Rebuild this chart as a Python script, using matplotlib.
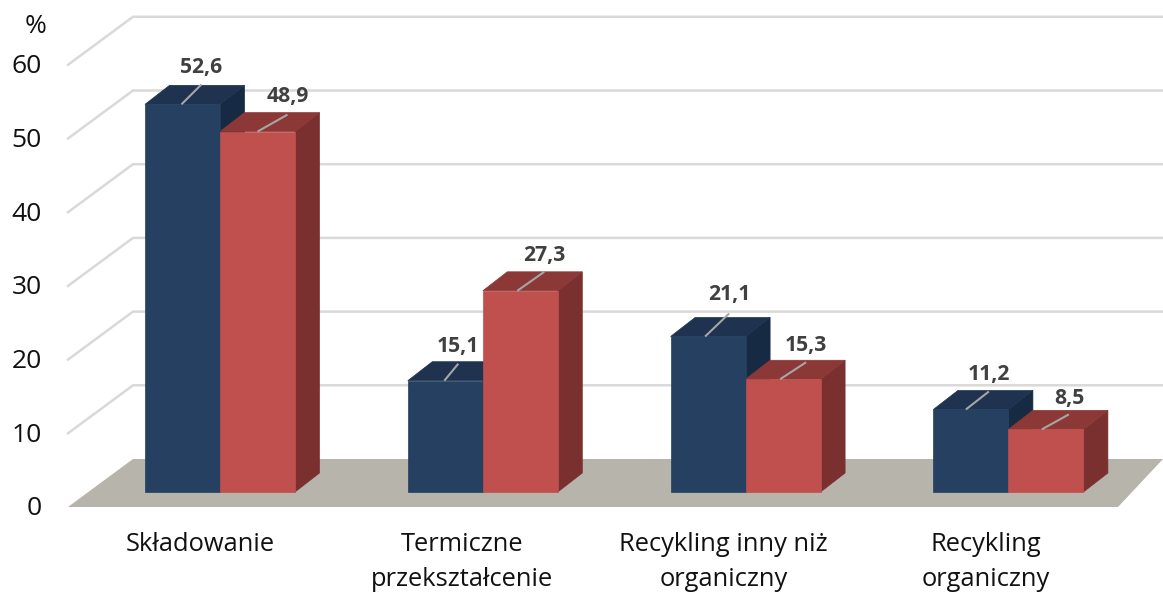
#!/usr/bin/env python3
import matplotlib
matplotlib.use('Agg')
import matplotlib.pyplot as plt
from matplotlib.patches import Polygon

plt.rcParams['font.family'] = ['Open Sans', 'DejaVu Sans']

categories = ['Składowanie', 'Termiczne\nprzekształcenie',
              'Recykling inny niż\norganiczny', 'Recykling\norganiczny']
series_blue = [52.6, 15.1, 21.1, 11.2]
series_red = [48.9, 27.3, 15.3, 8.5]
blue_labels = ['52,6', '15,1', '21,1', '11,2']
red_labels = ['48,9', '27,3', '15,3', '8,5']
y_ticks = [0, 10, 20, 30, 40, 50, 60]

# fake 3D box geometry, in data units (x: one category = 1, y: percent)
W, H = 1163, 594
PX_X = 262.8
PX_Y = 7.37
BAR_W = 75 / PX_X
DEPTH_X = 24.5 / PX_X
DEPTH_Y = 19 / PX_Y
FLOOR_FRONT = -15 / PX_Y
FLOOR_BACK = 33 / PX_Y
WALL_FRONT_X = -152 / PX_X
WALL_BACK_X = -87 / PX_X

# leader line ends and label centres relative to bar front top centre (pixels)
blue_offs = [((-1, 0), (19, 20), (19, 37)), ((-1, 0), (13, 17), (13, 34)),
             ((-3, 0), (21, 23), (21, 42)), ((-5, 0), (18, 18), (18, 35))]
red_offs = [((0, 0), (30, 17), (30, 35)), ((-3, 0), (24, 19), (24, 35)),
            ((-3, 0), (23, 17), (23, 34)), ((-4, 0), (23, 15), (23, 31))]

BLUE = ('#254061', '#1f3250', '#172a43')
RED = ('#c0504d', '#8c3836', '#7a302e')


def draw_box(ax, x0, value, cols):
    x1 = x0 + BAR_W
    ax.add_patch(Polygon([(x1, 0), (x1 + DEPTH_X, DEPTH_Y), (x1 + DEPTH_X, value + DEPTH_Y), (x1, value)],
                         fc=cols[2], ec=cols[2], lw=0.5, zorder=3))
    ax.add_patch(Polygon([(x0, value), (x1, value), (x1 + DEPTH_X, value + DEPTH_Y), (x0 + DEPTH_X, value + DEPTH_Y)],
                         fc=cols[1], ec=cols[1], lw=0.5, zorder=3))
    ax.add_patch(Polygon([(x0, 0), (x1, 0), (x1, value), (x0, value)],
                         fc=cols[0], ec=cols[0], lw=0.5, zorder=4))


def draw_label(ax, xc, value, text, offs):
    (a, _), (b, c), (d, e) = offs
    ax.plot([xc + a / PX_X, xc + b / PX_X], [value, value + c / PX_Y],
            color='#a6a6a6', lw=1.5, zorder=6, solid_capstyle='butt')
    ax.text(xc + d / PX_X, value + e / PX_Y, text, ha='center', va='center',
            fontsize=15.2, fontweight='bold', color='#404040', zorder=7)


fig = plt.figure(figsize=(W / 100, H / 100), dpi=100)
ax = fig.add_axes([0, 0, 1, 1])
ax.set_xlim(-220 / PX_X, (W - 220) / PX_X)
ax.set_ylim((492 - H) / PX_Y, 492 / PX_Y)
ax.axis('off')

xmax = (W - 220) / PX_X
for v in y_ticks:
    if v > 0:
        ax.plot([WALL_FRONT_X, WALL_BACK_X, xmax], [v + FLOOR_FRONT, v + FLOOR_BACK, v + FLOOR_BACK],
                color='#d9d9d9', lw=1.8, zorder=1, solid_joinstyle='miter')
    ax.text(-178 / PX_X, v + FLOOR_FRONT - 0.25, str(v), ha='right', va='center', fontsize=19, color='#111111')
ax.text(-173 / PX_X, 60 + FLOOR_FRONT + 38 / PX_Y, '%', ha='right', va='center', fontsize=19, color='#111111')

ax.add_patch(Polygon([(WALL_FRONT_X, FLOOR_FRONT), (WALL_BACK_X, FLOOR_BACK), (xmax, FLOOR_BACK),
                      (898 / PX_X, FLOOR_FRONT)], fc='#b7b4ac', ec='none', zorder=2))

for i, cat in enumerate(categories):
    draw_box(ax, i - BAR_W, series_blue[i], BLUE)
    draw_box(ax, i, series_red[i], RED)
    draw_label(ax, i - BAR_W / 2, series_blue[i], blue_labels[i], blue_offs[i])
    draw_label(ax, i + BAR_W / 2, series_red[i], red_labels[i], red_offs[i])

label_x = [-20, -21, -22, -23]
for i, cat in enumerate(categories):
    ax.text(i + label_x[i] / PX_X, -40 / PX_Y, cat, ha='center', va='top', fontsize=18.4,
            color='#111111', linespacing=1.54)

fig.savefig('out.png', dpi=100)
